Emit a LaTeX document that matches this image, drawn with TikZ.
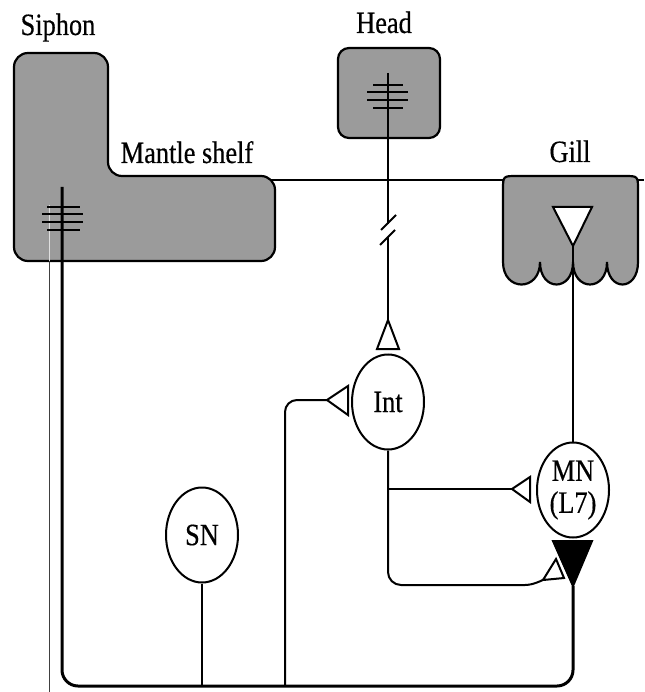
\documentclass[tikz,border=0pt]{standalone}
\usepackage{fontspec}
\setmainfont{Liberation Serif}[FakeStretch=0.85,FakeBold=0.4]
\usetikzlibrary{shapes.geometric}
\newcommand\lblfont{\fontsize{31}{35}\selectfont}
\definecolor{organgray}{RGB}{155,155,155}
\begin{document}
\begin{tikzpicture}[x=1pt,y=-1pt,
  organ/.style={draw=black, line width=2.2pt, fill=organgray},
  neuron/.style={ellipse, draw, line width=2pt, fill=white, minimum width=72pt, minimum height=95pt, inner sep=0pt, font=\lblfont, align=center},
  lbl/.style={font=\lblfont, anchor=base, inner sep=0pt},
  axon/.style={line width=2pt},
  thickaxon/.style={line width=3pt},
  thinline/.style={line width=1.1pt},
  synopen/.style={draw, line width=2pt, fill=white, line join=miter},
  synfilled/.style={draw, line width=2pt, fill=black, line join=miter},
  tick/.style={line width=2.4pt}
]
\useasboundingbox (0,0) rectangle (644,692);

% labels
\node[lbl] (siphonlbl) at (58,35) {Siphon};
\node[lbl] (headlbl) at (384,33) {Head};
\node[lbl] (mantlelbl) at (187,163) {Mantle shelf};
\node[lbl] (gilllbl) at (570,162) {Gill};

% thin horizontal line
\coordinate (hl1) at (262,180);
\coordinate (hl2) at (644,180);
\draw[thinline] (hl1) -- (hl2);

% siphon + mantle shelf
\draw[organ, rounded corners=14pt] (14,53) -- (108,53) -- (108,176) -- (275,176) -- (275,261) -- (14,261) -- cycle;

% head
\draw[organ, rounded corners=11pt] (338,48) rectangle (440,138);

% gill
\draw[organ] (503,262) -- (503,190) .. controls (503,176) and (503,176) .. (517,176) -- (624,176)
  .. controls (638,176) and (638,176) .. (638,190) -- (638,262)
  .. controls (638,292) and (607,292) .. (607,262)
  .. controls (607,292) and (573,292) .. (573,262)
  .. controls (573,292) and (540,292) .. (540,262)
  .. controls (540,292) and (503,292) .. (503,262) -- cycle;

% neurons
\node[neuron] (Int) at (388,402) {Int};
\node[neuron] (MN) at (573,490) {MN\\[-3pt](L7)};
\node[neuron] (SN) at (202,535) {SN};

% thin faint vertical line on the left
\coordinate (v1) at (49,205);
\coordinate (v2) at (49,261);
\coordinate (v3) at (49,692);
\draw[line width=0.8pt, white!75!gray] (v1) -- (v2);
\draw[line width=0.8pt, black!75] (v2) -- (v3);

% head sensory line with break
\coordinate (headtop) at (388,73);
\coordinate (brk1) at (388,224);
\coordinate (brk2) at (388,237);
\coordinate (intsynapex) at (388,320);
\draw[axon] (headtop) -- (brk1);
\draw[axon] (brk2) -- (intsynapex);
\draw[axon] (381,230) -- (396,215);
\draw[axon] (380,245) -- (395,230);
\foreach \yy/\a/\b in {85/373/403, 92/367/408, 100/367/408, 108/373/403}
  \draw[tick] (\a,\yy) -- (\b,\yy);

% synapse onto Int from head
\draw[synopen] (intsynapex) -- (399,349) -- (377,349) -- cycle;

% synapse onto Int from SN branch (left)
\coordinate (intleftapex) at (327,400);
\draw[synopen] (intleftapex) -- (348,386) -- (348,415) -- cycle;
\draw[axon, rounded corners=12pt] (intleftapex) -- (285,400) -- (285,686);

% siphon sensory ticks
\foreach \yy/\a/\b in {207/47/80, 214/42/83, 222/42/83, 230/47/80}
  \draw[tick] (\a,\yy) -- (\b,\yy);

% gill motor terminal
\coordinate (gilltip) at (573,246);
\draw[synopen] (553,207) -- (592,207) -- (gilltip) -- cycle;
\draw[line width=1.4pt] (gilltip) -- (MN.north);

% Int outputs onto MN
\coordinate (branch) at (388,489);
\coordinate (mnsynapex) at (512,489);
\draw[axon] (branch) -- (mnsynapex);
\draw[synopen] (mnsynapex) -- (530,477) -- (530,502) -- cycle;

\coordinate (lowsynbase) at (546,578);
\draw[axon, rounded corners=13pt] (Int.south) -- (388,585) -- (538,585) -- (lowsynbase);

% filled synapse under MN
\coordinate (filltip) at (573,586);
\draw[synfilled] (553,541) -- (592,541) -- (filltip) -- cycle;

\draw[synopen] (556,559) -- (564,578) -- (543,580) -- cycle;

% main sensory line and bottom bus
\draw[thickaxon, rounded corners=16pt] (filltip) -- (573,686) -- (62,686) -- (62,187);
\draw[axon] (SN.south) -- (202,686);
\end{tikzpicture}
\end{document}
